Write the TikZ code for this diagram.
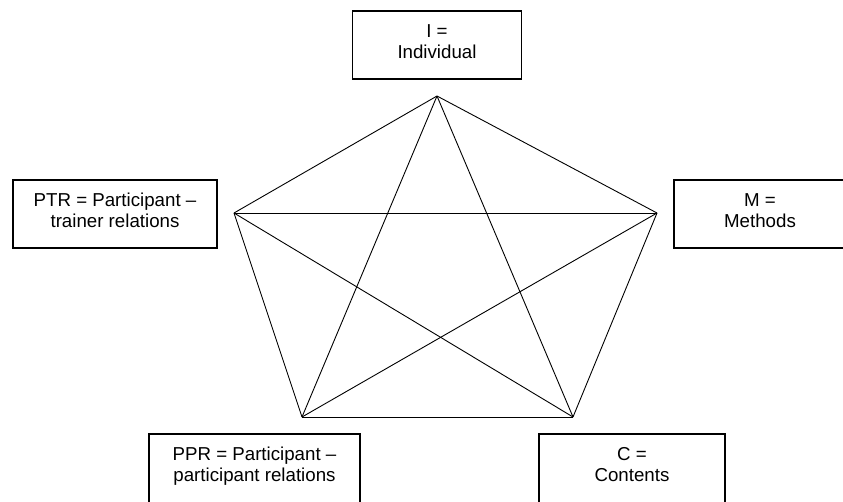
\documentclass[tikz,border=0pt]{standalone}
\usepackage{fontspec}
\setmainfont{Liberation Sans}
\usepackage{tikz}
\usetikzlibrary{positioning}

\begin{document}
\begin{tikzpicture}[
    x=1pt, y=-1pt,
    box/.style={draw, line width=1.1pt, inner sep=0pt, minimum height=68pt,
                align=center, text depth=7pt},
    lowbox/.style={box, minimum height=72pt, text depth=11pt},
    link/.style={line width=0.9pt},
    every node/.style={font=\fontsize{18.7}{21}\selectfont}
]
\useasboundingbox (0,0) rectangle (843,501);

% Boxes
\node[box, minimum width=169pt]    (indiv)   at (437, 45)   {I =\\Individual};
\node[box, minimum width=204pt]    (ptr)     at (115, 214)  {PTR = Participant --\\trainer relations};
\node[box, minimum width=172pt]    (methods) at (760, 214)  {M =\\Methods};
\node[lowbox, minimum width=211pt] (ppr)     at (254.5, 470) {PPR = Participant --\\participant relations};
\node[lowbox, minimum width=186pt] (cont)    at (632, 470)  {C =\\Contents};

% Pentagon corners
\coordinate (pI) at (437, 96);
\coordinate (pPTR) at (234, 213);
\coordinate (pM) at (657, 213);
\coordinate (pPPR) at (302, 417);
\coordinate (pC) at (573, 417);

% Outline
\draw[link] (pI) -- (pM);
\draw[link] (pM) -- (pC);
\draw[link] (pC) -- (pPPR);
\draw[link] (pPPR) -- (pPTR);
\draw[link] (pPTR) -- (pI);

% Star
\draw[link] (pI) -- (pPPR);
\draw[link] (pI) -- (pC);
\draw[link] (pPTR) -- (pM);
\draw[link] (pPTR) -- (pC);
\draw[link] (pM) -- (pPPR);
\end{tikzpicture}
\end{document}
